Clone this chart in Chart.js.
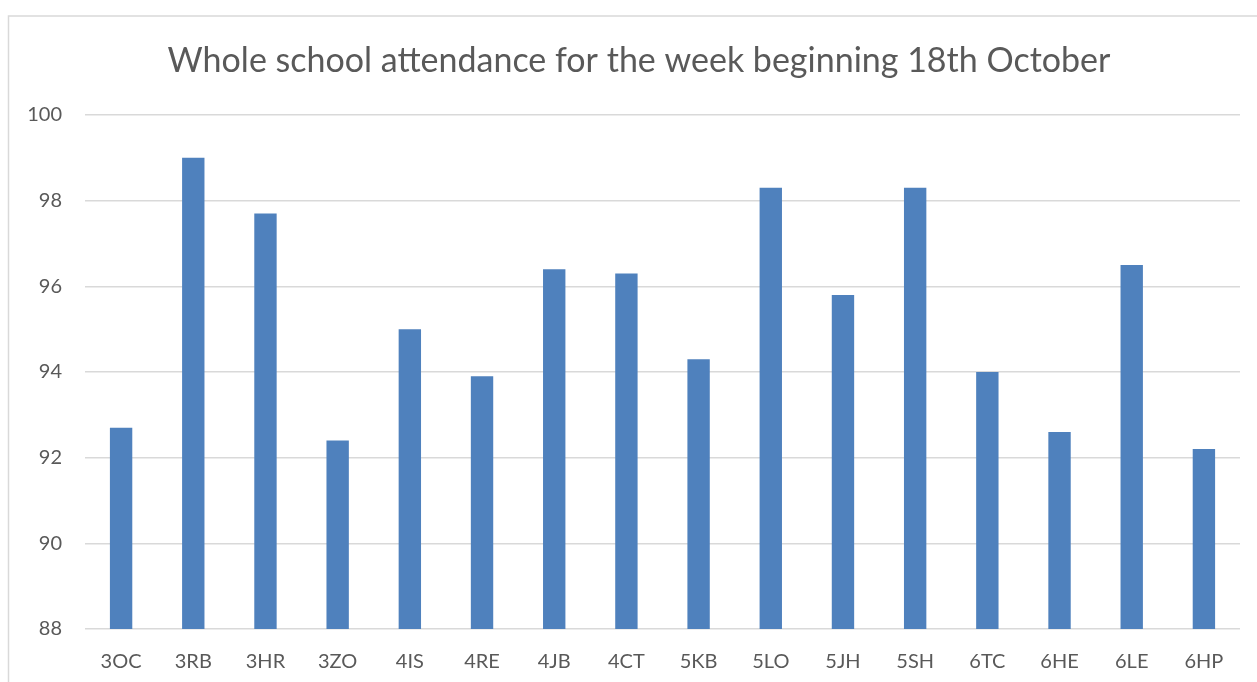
<!DOCTYPE html>
<html>
<head>
<meta charset="utf-8">
<script src="https://cdn.jsdelivr.net/npm/chart.js@4"></script>
<style>
html,body{margin:0;padding:0;background:#fff;overflow:hidden;}
canvas{display:block;}
</style>
</head>
<body>
<canvas id="c" width="1257" height="682"></canvas>
<script>
const titleText = "Whole school attendance for the week beginning 18th October";
const categories = ["3OC","3RB","3HR","3ZO","4IS","4RE","4JB","4CT","5KB","5LO","5JH","5SH","6TC","6HE","6LE","6HP"];
const attendance = [92.7,99.0,97.7,92.4,95.0,93.9,96.4,96.3,94.3,98.3,95.8,98.3,94.0,92.6,96.5,92.2];
const yMin = 88, yMax = 100, yStep = 2;

const frameAndTitle = {
  id: 'frameAndTitle',
  beforeDraw(chart) {
    const ctx = chart.ctx;
    ctx.save();
    ctx.fillStyle = '#ffffff';
    ctx.fillRect(0, 0, chart.width, chart.height);
    ctx.strokeStyle = '#d9d9d9';
    ctx.lineWidth = 1.5;
    ctx.strokeRect(8.5, 16, chart.width + 50, chart.height + 50);
    ctx.fillStyle = '#595959';
    ctx.font = 'normal 34px Lato';
    ctx.textAlign = 'center';
    ctx.textBaseline = 'alphabetic';
    ctx.fillText(titleText, 639, 72);
    ctx.restore();
  }
};

new Chart(document.getElementById('c'), {
  type: 'bar',
  data: {
    labels: categories,
    datasets: [{
      label: 'Attendance',
      data: attendance,
      backgroundColor: '#4f81bd',
      borderWidth: 0,
      categoryPercentage: 1,
      barPercentage: 0.31
    }]
  },
  plugins: [frameAndTitle],
  options: {
    responsive: false,
    animation: false,
    layout: { padding: { left: 10, right: 17, top: 115, bottom: 0 } },
    plugins: {
      legend: { display: false },
      tooltip: { enabled: false },
      title: { display: false }
    },
    scales: {
      x: {
        afterFit(scale) { scale.height = 53; },
        grid: { display: false, drawTicks: false },
        border: { display: false },
        ticks: { color: '#595959', font: { family: 'Lato', size: 20 }, padding: 21, maxRotation: 0, autoSkip: false }
      },
      y: {
        min: yMin, max: yMax,
        afterFit(scale) { scale.width = 75; },
        grid: { color: '#d9d9d9', lineWidth: 1.5, drawTicks: false },
        border: { display: false },
        ticks: { stepSize: yStep, color: '#595959', font: { family: 'Lato', size: 20 }, padding: 23 }
      }
    }
  }
});
</script>
</body>
</html>
